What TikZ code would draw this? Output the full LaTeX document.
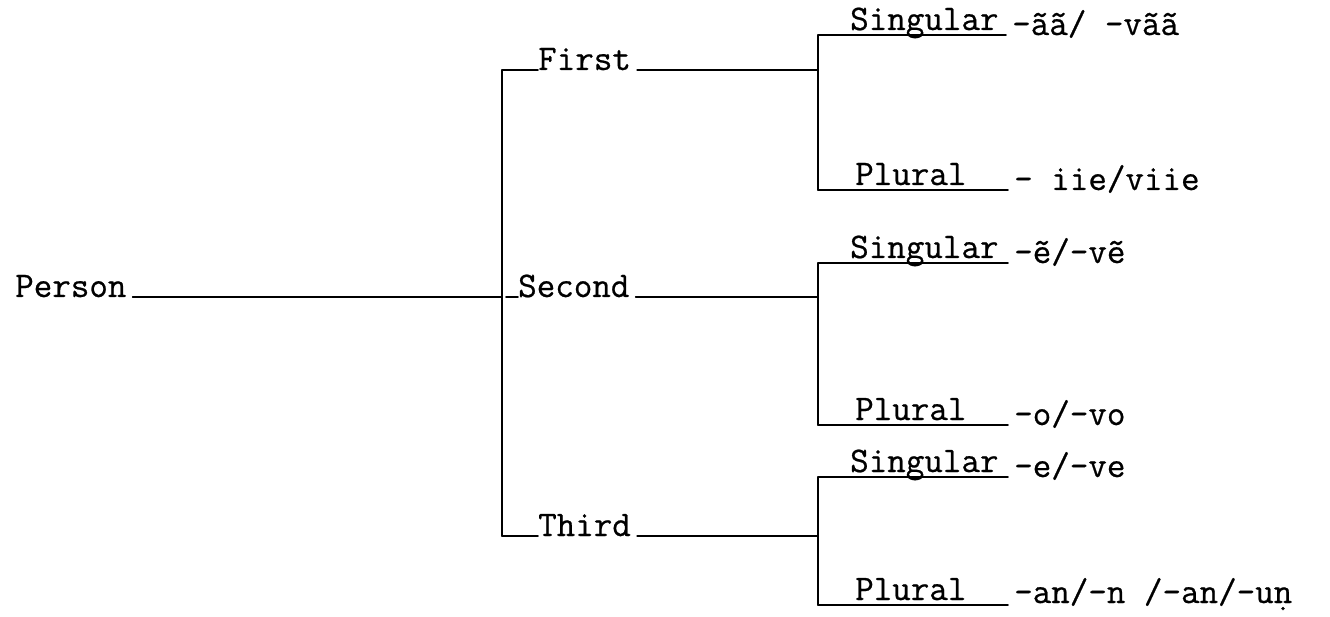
\documentclass[tikz,border=0pt]{standalone}
\usepackage{fontspec}
% typewriter face, slightly emboldened to read like ribbon ink
\newfontfamily\typewriter{Latin Modern Mono}[FakeBold=0.6]
\begin{document}
\begin{tikzpicture}[x=1pt,y=-1pt,
  txt/.style={font=\typewriter\fontsize{36}{40}\selectfont, inner sep=0pt, anchor=base west},
  rule/.style={line width=1.6pt, line cap=round}]
\useasboundingbox (0,0) rectangle (1330,617);

% root and first-level junction
\node[txt] (person) at (15,297) {Person};
\coordinate (jmid) at (502,297);
\coordinate (jtop) at (502,70);
\coordinate (jbot) at (502,536);

% first-level labels
\node[txt] (first)  at (538,70)  {First};
\node[txt] (second) at (518,297) {Second};
\node[txt] (third)  at (538,536) {Third};

% second-level junctions
\coordinate (aj) at (818,70);   \coordinate (atop) at (818,35);  \coordinate (abot) at (818,190);
\coordinate (bj) at (818,297);  \coordinate (btop) at (818,263); \coordinate (bbot) at (818,425);
\coordinate (cj) at (818,536);  \coordinate (ctop) at (818,477); \coordinate (cbot) at (818,605);

% number labels (underlined by the branch rules)
\node[txt] (asg) at (850,30)  {Singular};
\node[txt] (apl) at (855,185) {Plural};
\node[txt] (bsg) at (850,258) {Singular};
\node[txt] (bpl) at (855,420) {Plural};
\node[txt] (csg) at (850,472) {Singular};
\node[txt] (cpl) at (855,600) {Plural};

% suffixes
\node[txt] (asx) at (1012,35)  {-ãã/ -vãã};
\node[txt] (apx) at (1014,190) {- iie/viie};
\node[txt] (bsx) at (1014,263) {-ẽ/-vẽ};
\node[txt] (bpx) at (1014,425) {-o/-vo};
\node[txt] (csx) at (1014,477) {-e/-ve};
\node[txt] (cpx) at (1014,603) {-an/-n /-an/-uṇ};

% connectors
\draw[rule] (person.base east) ++(6,0) -- (jmid);
\draw[rule] (jtop) -- (jbot);
\draw[rule] (jtop) -- (first.base west);
\draw[rule] (jmid) ++(4,0) -- (second.base west);
\draw[rule] (jbot) -- (third.base west);
\draw[rule] (first.base east) ++(6,0) -- (aj);
\draw[rule] (second.base east) ++(6,0) -- (bj);
\draw[rule] (third.base east) ++(6,0) -- (cj);

\draw[rule] (atop) -- (abot);
\draw[rule] (btop) -- (bbot);
\draw[rule] (ctop) -- (cbot);

\draw[rule] (atop) -- ([xshift=-6pt]atop -| asx.west);
\draw[rule] (abot) -- ([xshift=-6pt]abot -| apx.west);
\draw[rule] (btop) -- ([xshift=-6pt]btop -| bsx.west);
\draw[rule] (bbot) -- ([xshift=-6pt]bbot -| bpx.west);
\draw[rule] (ctop) -- ([xshift=-6pt]ctop -| csx.west);
\draw[rule] (cbot) -- ([xshift=-6pt]cbot -| cpx.west);
\end{tikzpicture}
\end{document}
